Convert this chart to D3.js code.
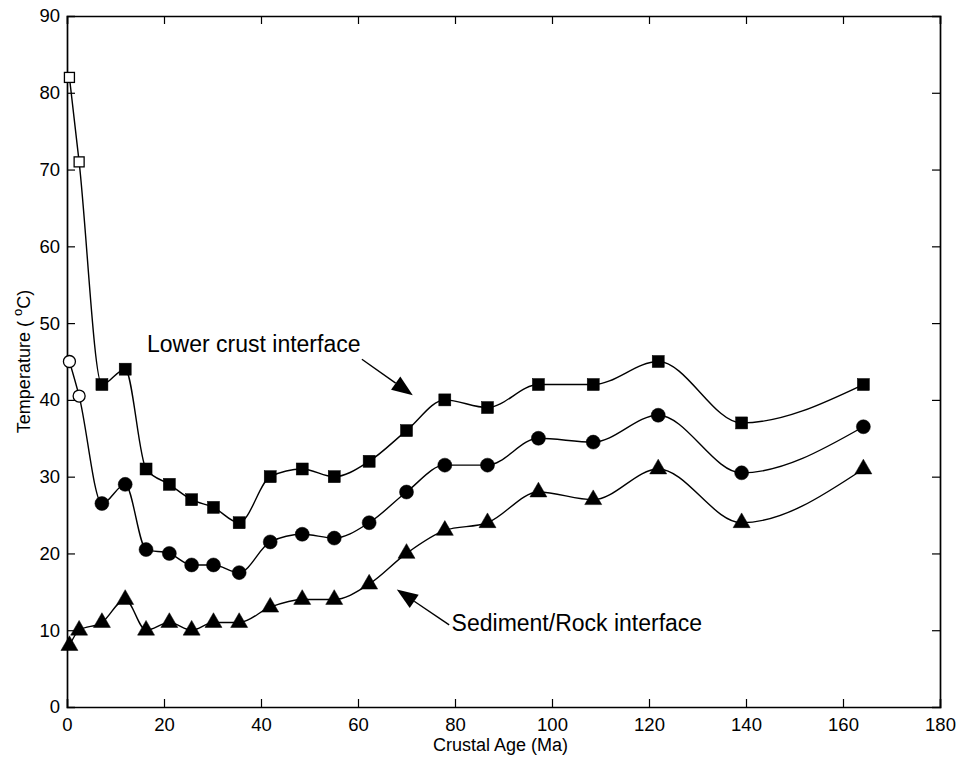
<!DOCTYPE html>
<html>
<head>
<meta charset="utf-8">
<script src="https://cdn.jsdelivr.net/npm/d3@7"></script>
<style>
  html, body { margin: 0; padding: 0; background: #fff; }
  svg { display: block; font-family: "Liberation Sans", Arial, Helvetica, sans-serif; }
</style>
</head>
<body>
<svg id="chart" width="960" height="759"></svg>
<script>
// ---- Data ----
const crustalAge = [0.5, 2.5, 7.2, 12, 16.3, 21.1, 25.7, 30.2, 35.5, 41.9, 48.5, 55.1, 62.3, 70, 77.9, 86.7, 97.2, 108.5, 121.9, 139.1, 164.2];
const lowerCrust = [82, 71, 42, 44, 31, 29, 27, 26, 24, 30, 31, 30, 32, 36, 40, 39, 42, 42, 45, 37, 42];
const middle = [45, 40.5, 26.5, 29, 20.5, 20, 18.5, 18.5, 17.5, 21.5, 22.5, 22, 24, 28, 31.5, 31.5, 35, 34.5, 38, 30.5, 36.5];
const sedimentRock = [8, 10, 11, 14, 10, 11, 10, 11, 11, 13, 14, 14, 16, 20, 23, 24, 28, 27, 31, 24, 31];
const openCount = [2, 2, 0]; // number of leading open (hollow) markers per series
const xTicks = [0, 20, 40, 60, 80, 100, 120, 140, 160, 180];
const yTicks = [0, 10, 20, 30, 40, 50, 60, 70, 80, 90];
const annotations = [
  { text: "Lower crust interface", tx: 16.5, ty: 46.2, ax0: 60.8, ay0: 45.3, ax1: 71.3, ay1: 40.6 },
  { text: "Sediment/Rock interface", tx: 79.3, ty: 9.9, ax0: 78.8, ay0: 10.7, ax1: 68.0, ay1: 15.3 }
];

// ---- Layout ----
const svg = d3.select("#chart");
const pLeft = 67, pRight = 940, pTop = 16, pBottom = 707;
const x = d3.scaleLinear().domain([0, 180]).range([pLeft, pRight]);
const y = d3.scaleLinear().domain([0, 90]).range([pBottom, pTop]);

const g = svg.append("g");

// ---- Axes (ticks inside, mirrored box) ----
const tickLen = 8;
const axB = g.append("g").attr("transform", `translate(0,${pBottom})`)
  .call(d3.axisBottom(x).tickValues(xTicks).tickSize(-tickLen).tickPadding(11).tickFormat(d3.format("d")));
const axT = g.append("g").attr("transform", `translate(0,${pTop})`)
  .call(d3.axisTop(x).tickValues(xTicks).tickSize(-tickLen).tickFormat(""));
const axL = g.append("g").attr("transform", `translate(${pLeft},0)`)
  .call(d3.axisLeft(y).tickValues(yTicks).tickSize(-tickLen).tickPadding(7).tickFormat(d3.format("d")));
const axR = g.append("g").attr("transform", `translate(${pRight},0)`)
  .call(d3.axisRight(y).tickValues(yTicks).tickSize(-tickLen).tickFormat(""));
[axB, axT, axL, axR].forEach(a => {
  a.select(".domain").attr("stroke", "#000").attr("stroke-width", 1.7);
  a.selectAll(".tick line").attr("stroke", "#000").attr("stroke-width", 1.2);
  a.selectAll(".tick text").attr("fill", "#000").attr("font-size", 18.5)
    .attr("font-family", "'Liberation Sans', Arial, sans-serif");
});
[axB, axT].forEach(a => a.selectAll(".tick").filter(d => d === 0 || d === 180).select("line").remove());
[axL, axR].forEach(a => a.selectAll(".tick").filter(d => d === 0 || d === 90).select("line").remove());

// ---- Axis titles ----
g.append("text").attr("x", (pLeft + pRight) / 2 - 3).attr("y", 751).attr("text-anchor", "middle")
  .attr("font-size", 18).text("Crustal Age (Ma)");
const yt = g.append("text").attr("transform", `translate(30,${(pTop + pBottom) / 2}) rotate(-90)`)
  .attr("text-anchor", "middle").attr("font-size", 18);
yt.append("tspan").text("Temperature ( ");
yt.append("tspan").attr("font-size", 13).attr("dy", -8).text("o");
yt.append("tspan").attr("dy", 8).text("C)");

// ---- Series ----
const series = [
  { vals: lowerCrust, shape: "square" },
  { vals: middle, shape: "circle" },
  { vals: sedimentRock, shape: "triangle" }
];
const line = d3.line().x(d => x(d[0])).y(d => y(d[1])).curve(d3.curveMonotoneX);

series.forEach((s, si) => {
  const pts = crustalAge.map((a, i) => [a, s.vals[i], i]);
  g.append("path").datum(pts).attr("d", line)
    .attr("fill", "none").attr("stroke", "#000").attr("stroke-width", 1.4);

  const mk = g.append("g");
  pts.forEach(p => {
    const open = p[2] < openCount[si];
    const cx = x(p[0]), cy = y(p[1]);
    let m;
    if (s.shape === "square") {
      const sz = open ? 10 : 12;
      m = mk.append("rect").attr("x", cx - sz / 2).attr("y", cy - sz / 2).attr("width", sz).attr("height", sz);
    } else if (s.shape === "circle") {
      m = mk.append("circle").attr("cx", cx).attr("cy", cy).attr("r", open ? 6 : 7);
    } else {
      m = mk.append("path").attr("d", d3.symbol(d3.symbolTriangle, 125)()).attr("transform", `translate(${cx},${cy})`);
    }
    if (open) m.attr("fill", "#fff").attr("stroke", "#000").attr("stroke-width", 1.3);
    else m.attr("fill", "#000").attr("stroke", "#000").attr("stroke-width", 0.5);
  });
});

// ---- Annotations ----
annotations.forEach(an => {
  g.append("text").attr("x", x(an.tx)).attr("y", y(an.ty)).attr("font-size", 23).text(an.text);
  const x0 = x(an.ax0), y0 = y(an.ay0), x1 = x(an.ax1), y1 = y(an.ay1);
  const dx = x1 - x0, dy = y1 - y0, L = Math.hypot(dx, dy);
  const ux = dx / L, uy = dy / L;
  const hl = 21, hw = 8;
  const bx = x1 - ux * hl, by = y1 - uy * hl;
  g.append("line").attr("x1", x0).attr("y1", y0).attr("x2", bx).attr("y2", by)
    .attr("stroke", "#000").attr("stroke-width", 1.4);
  g.append("path").attr("d", `M${x1},${y1}L${bx - uy * hw},${by + ux * hw}L${bx + uy * hw},${by - ux * hw}Z`)
    .attr("fill", "#000");
});
</script>
</body>
</html>
